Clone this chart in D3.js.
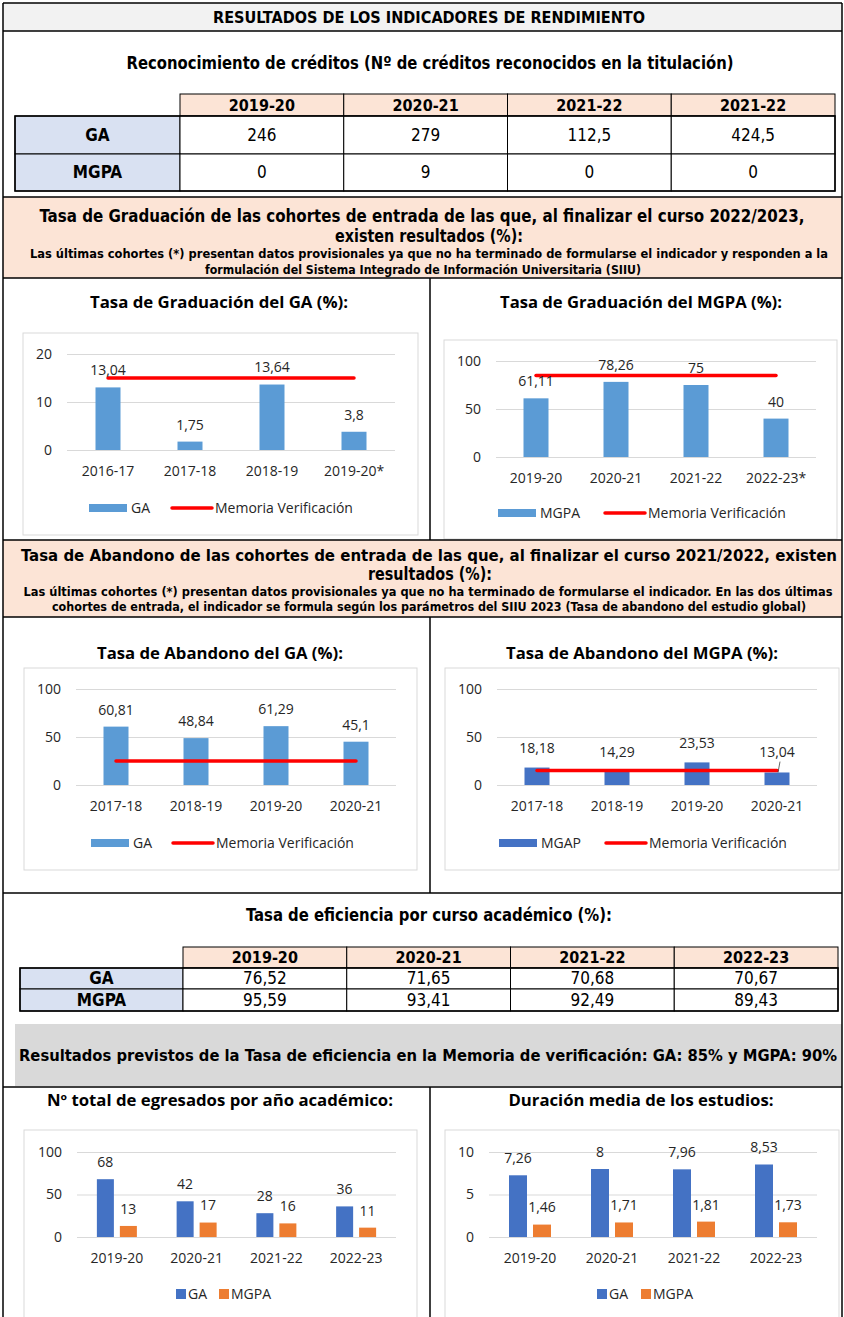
<!DOCTYPE html>
<html>
<head>
<meta charset="utf-8">
<script src="https://cdn.jsdelivr.net/npm/d3@7"></script>
<style>
  body { margin: 0; background: #fff; }
  svg { display: block; }
</style>
</head>
<body>
<div id="wrapper"></div>
<script>
/* DATA */
const creditYears = ['2019-20', '2020-21', '2021-22', '2021-22'];
const creditGA = [246, 279, 112.5, 424.5];
const creditMGPA = [0, 9, 0, 0];

const gradGAYears = ['2016-17', '2017-18', '2018-19', '2019-20*'];
const gradGA = [13.04, 1.75, 13.64, 3.8];
const gradGATarget = 15;

const gradMGPAYears = ['2019-20', '2020-21', '2021-22', '2022-23*'];
const gradMGPA = [61.11, 78.26, 75, 40];
const gradMGPATarget = 85;

const abanYears = ['2017-18', '2018-19', '2019-20', '2020-21'];
const abanGA = [60.81, 48.84, 61.29, 45.1];
const abanGATarget = 25;
const abanMGPA = [18.18, 14.29, 23.53, 13.04];
const abanMGPATarget = 15;

const eficYears = ['2019-20', '2020-21', '2021-22', '2022-23'];
const eficGA = [76.52, 71.65, 70.68, 70.67];
const eficMGPA = [95.59, 93.41, 92.49, 89.43];

const egreYears = ['2019-20', '2020-21', '2021-22', '2022-23'];
const egreGA = [68, 42, 28, 36];
const egreMGPA = [13, 17, 16, 11];

const durYears = ['2019-20', '2020-21', '2021-22', '2022-23'];
const durGA = [7.26, 8, 7.96, 8.53];
const durMGPA = [1.46, 1.71, 1.81, 1.73];

const ticksSmall = [0, 10, 20];
const ticksPct = [0, 50, 100];
const ticksDur = [0, 5, 10];

/* SETUP */
const width = 844;
const height = 1317;
const narrow = "'DejaVu Sans Condensed', 'DejaVu Sans', sans-serif";
const chartFont = "'Open Sans', sans-serif";
const lightBlue = '#5b9bd5';
const darkBlue = '#4472c4';
const orange = '#ed7d31';
const peach = '#fce4d6';
const lavender = '#d9e1f2';

const comma = v => String(v).replace('.', ',');

const svg = d3.select('#wrapper')
  .append('svg')
  .attr('width', width)
  .attr('height', height);

function addText(parent, str, x, y, o = {}) {
  const t = parent.append('text')
    .attr('x', x)
    .attr('y', y)
    .attr('dy', '0.35em')
    .attr('text-anchor', o.anchor || 'middle')
    .attr('font-family', o.font || narrow)
    .attr('font-size', o.size || 16)
    .attr('font-weight', o.bold ? 'bold' : 'normal')
    .attr('fill', o.color || '#000')
    .text(str);
  if (o.fit) t.attr('textLength', o.fit).attr('lengthAdjust', 'spacingAndGlyphs');
  return t;
}

/* BACKGROUNDS */
svg.append('rect').attr('x', 3).attr('y', 3).attr('width', 839).attr('height', 28).attr('fill', '#f2f2f2');
svg.append('rect').attr('x', 3).attr('y', 197).attr('width', 839).attr('height', 81).attr('fill', peach);
svg.append('rect').attr('x', 3).attr('y', 540).attr('width', 839).attr('height', 77).attr('fill', peach);
svg.append('rect').attr('x', 15).attr('y', 1024).attr('width', 827).attr('height', 62).attr('fill', '#d9d9d9');

/* SECTION TEXTS */
addText(svg, 'RESULTADOS DE LOS INDICADORES DE RENDIMIENTO', 429, 18, { bold: true, size: 15, fit: 432 });
addText(svg, 'Reconocimiento de créditos (Nº de créditos reconocidos en la titulación)', 430, 63, { bold: true, size: 17, fit: 607 });

addText(svg, 'Tasa de Graduación de las cohortes de entrada de las que, al finalizar el curso 2022/2023,', 422, 216, { bold: true, size: 17, fit: 765 });
addText(svg, 'existen resultados (%):', 429, 236, { bold: true, size: 17, fit: 188 });
addText(svg, 'Las últimas cohortes (*) presentan datos provisionales ya que no ha terminado de formularse el indicador y responden a la', 429, 254, { bold: true, size: 12.5, fit: 798 });
addText(svg, 'formulación del Sistema Integrado de Información Universitaria (SIIU)', 423, 270, { bold: true, size: 12.5, fit: 436 });

addText(svg, 'Tasa de Abandono de las cohortes de entrada de las que, al finalizar el curso 2021/2022, existen', 429, 555, { bold: true, size: 16, fit: 816 });
addText(svg, 'resultados (%):', 430, 574, { bold: true, size: 17, fit: 124 });
addText(svg, 'Las últimas cohortes (*) presentan datos provisionales ya que no ha terminado de formularse el indicador. En las dos últimas', 428, 592, { bold: true, size: 12.5, fit: 809 });
addText(svg, 'cohortes de entrada, el indicador se formula según los parámetros del SIIU 2023 (Tasa de abandono del estudio global)', 429, 607, { bold: true, size: 12.5, fit: 754 });

addText(svg, 'Tasa de eficiencia por curso académico (%):', 429, 915, { bold: true, size: 17, fit: 366 });
addText(svg, 'Resultados previstos de la Tasa de eficiencia en la Memoria de verificación: GA: 85% y MGPA: 90%', 428, 1055, { bold: true, size: 16, fit: 818 });

/* TABLES */
function drawTable(t) {
  const g = svg.append('g');
  const cols = d3.scaleBand().domain(d3.range(t.years.length)).range([t.xLabel, t.x1]);
  const [y0, y1] = t.rowY;
  const headH = y1 - y0;

  t.years.forEach((yr, i) => {
    g.append('rect')
      .attr('x', cols(i)).attr('y', y0)
      .attr('width', cols.bandwidth()).attr('height', headH)
      .attr('fill', peach).attr('stroke', '#000');
    addText(g, yr, cols(i) + cols.bandwidth() / 2, y0 + headH / 2, { bold: true, size: t.headSize });
  });

  let top = y1;
  t.rows.forEach((row, r) => {
    const h = t.rowH[r];
    g.append('rect')
      .attr('x', t.x0).attr('y', top)
      .attr('width', t.xLabel - t.x0).attr('height', h)
      .attr('fill', lavender).attr('stroke', '#000');
    addText(g, row.name, (t.x0 + t.xLabel) / 2, top + h / 2, { bold: true, size: t.valueSize });
    row.values.forEach((v, i) => {
      g.append('rect')
        .attr('x', cols(i)).attr('y', top)
        .attr('width', cols.bandwidth()).attr('height', h)
        .attr('fill', '#fff').attr('stroke', '#000');
      addText(g, comma(v), cols(i) + cols.bandwidth() / 2, top + h / 2, { size: t.valueSize });
    });
    top += h;
  });
  g.append('rect')
    .attr('x', t.x0).attr('y', y1)
    .attr('width', t.x1 - t.x0).attr('height', top - y1)
    .attr('fill', 'none').attr('stroke', '#000').attr('stroke-width', 1.5);
}

drawTable({
  x0: 15, xLabel: 180, x1: 835, rowY: [94, 116], rowH: [38, 37],
  years: creditYears, headSize: 16, valueSize: 17,
  rows: [{ name: 'GA', values: creditGA }, { name: 'MGPA', values: creditMGPA }],
});

drawTable({
  x0: 20, xLabel: 183, x1: 838, rowY: [947, 968], rowH: [21, 22],
  years: eficYears, headSize: 16, valueSize: 17,
  rows: [{ name: 'GA', values: eficGA }, { name: 'MGPA', values: eficMGPA }],
});

/* CHARTS */
function drawChart(c) {
  const g = svg.append('g');
  g.append('rect')
    .attr('x', c.box[0]).attr('y', c.box[1])
    .attr('width', c.box[2]).attr('height', c.box[3])
    .attr('fill', '#fff').attr('stroke', '#d9d9d9');
  addText(g, c.title, c.titleX, c.titleY, { font: chartFont, size: 16, bold: true, fit: c.titleW });

  const [px0, px1, py0, py1] = c.plot;
  const x = d3.scaleBand().domain(c.cats).range([px0, px1]);
  const y = d3.scaleLinear().domain([0, d3.max(c.ticks)]).range([py0, py1]);
  const inner = d3.scaleBand()
    .domain(c.series.map(s => s.name))
    .range(c.inner)
    .paddingInner(c.innerPad);

  const yAxis = g.append('g')
    .attr('transform', `translate(${px0},0)`)
    .call(d3.axisLeft(y).tickValues(c.ticks).tickSize(-(px1 - px0)).tickPadding(15));
  yAxis.select('.domain').remove();
  yAxis.selectAll('line').attr('stroke', '#d9d9d9');
  yAxis.selectAll('text')
    .attr('font-family', chartFont).attr('font-size', 14).attr('fill', '#262626');

  const xAxis = g.append('g')
    .attr('transform', `translate(0,${py0})`)
    .call(d3.axisBottom(x).tickSize(0).tickPadding(16));
  xAxis.select('.domain').remove();
  xAxis.selectAll('text')
    .attr('font-family', chartFont).attr('font-size', 14).attr('fill', '#262626');

  const cx = i => x(c.cats[i]) + x.bandwidth() / 2;

  c.series.forEach(s => {
    g.append('g')
      .selectAll('rect')
      .data(s.values)
      .join('rect')
      .attr('x', (d, i) => cx(i) + inner(s.name))
      .attr('y', d => y(d))
      .attr('width', inner.bandwidth())
      .attr('height', d => py0 - y(d))
      .attr('fill', s.color);
  });

  if (c.target != null) {
    g.append('path')
      .datum(c.cats)
      .attr('d', d3.line().x((d, i) => cx(i)).y(() => y(c.target)))
      .attr('fill', 'none')
      .attr('stroke', '#ff0000')
      .attr('stroke-width', 3.5)
      .attr('stroke-linecap', 'round');
  }

  c.series.forEach(s => {
    s.values.forEach((d, i) => {
      const bx = cx(i) + inner(s.name) + inner.bandwidth() / 2;
      const ly = c.clearLine ? Math.min(y(d), y(c.target)) - 19 : y(d) - 17;
      // leader line when a label was pushed well away from its bar
      if (y(d) - ly > 20.5) {
        g.append('line')
          .attr('x1', bx + 3).attr('x2', bx + 1)
          .attr('y1', ly + 10).attr('y2', y(d))
          .attr('stroke', '#404040').attr('stroke-width', 0.8);
      }
      addText(g, comma(d), bx, ly, { font: chartFont, size: 14, color: '#262626' });
    });
  });

  // legend
  const lg = g.append('g');
  c.series.forEach((s, i) => {
    const lx = c.legendX[i];
    if (c.square) {
      lg.append('rect').attr('x', lx).attr('y', c.legendY - 5).attr('width', 10).attr('height', 10).attr('fill', s.color);
      addText(lg, s.name, lx + 12, c.legendY, { font: chartFont, size: 14, anchor: 'start', color: '#262626' });
    } else {
      lg.append('rect').attr('x', lx).attr('y', c.legendY - 4).attr('width', 38).attr('height', 8).attr('fill', s.color);
      addText(lg, s.name, lx + 42, c.legendY, { font: chartFont, size: 14, anchor: 'start', color: '#262626' });
    }
  });
  if (c.target != null) {
    const lx = c.legendX[c.series.length];
    lg.append('line')
      .attr('x1', lx).attr('x2', lx + 40)
      .attr('y1', c.legendY).attr('y2', c.legendY)
      .attr('stroke', '#ff0000').attr('stroke-width', 3.5).attr('stroke-linecap', 'round');
    addText(lg, 'Memoria Verificación', lx + 43, c.legendY, { font: chartFont, size: 14, anchor: 'start', color: '#262626' });
  }
}

drawChart({
  title: 'Tasa de Graduación del GA (%):', titleX: 219, titleY: 302, titleW: 258,
  box: [23, 333, 395, 202], plot: [67, 395, 450, 354], ticks: ticksSmall,
  cats: gradGAYears, inner: [-12.5, 12.5], innerPad: 0,
  series: [{ name: 'GA', values: gradGA, color: lightBlue }],
  target: gradGATarget, legendX: [89, 172], legendY: 508,
});

drawChart({
  title: 'Tasa de Graduación del MGPA (%):', titleX: 641, titleY: 302, titleW: 282,
  box: [444, 340, 393, 199], plot: [496, 816, 457, 361], ticks: ticksPct,
  cats: gradMGPAYears, inner: [-12.5, 12.5], innerPad: 0,
  series: [{ name: 'MGPA', values: gradMGPA, color: lightBlue }],
  target: gradMGPATarget, legendX: [498, 605], legendY: 513,
});

drawChart({
  title: 'Tasa de Abandono del GA (%):', titleX: 220, titleY: 653, titleW: 246,
  box: [24, 668, 393, 202], plot: [76, 396, 785, 689], ticks: ticksPct,
  cats: abanYears, inner: [-12.5, 12.5], innerPad: 0,
  series: [{ name: 'GA', values: abanGA, color: lightBlue }],
  target: abanGATarget, legendX: [91, 173], legendY: 843,
});

drawChart({
  title: 'Tasa de Abandono del MGPA (%):', titleX: 642, titleY: 653, titleW: 272,
  box: [445, 668, 394, 202], plot: [497, 817, 785, 689], ticks: ticksPct,
  cats: abanYears, inner: [-12.5, 12.5], innerPad: 0,
  series: [{ name: 'MGAP', values: abanMGPA, color: darkBlue }],
  target: abanMGPATarget, clearLine: true, legendX: [499, 606], legendY: 843,
});

drawChart({
  title: 'Nº total de egresados por año académico:', titleX: 220, titleY: 1100, titleW: 346,
  box: [24, 1130, 393, 220], plot: [77, 396, 1237, 1152], ticks: ticksPct,
  cats: egreYears, inner: [-20, 20], innerPad: 0.26,
  series: [
    { name: 'GA', values: egreGA, color: darkBlue },
    { name: 'MGPA', values: egreMGPA, color: orange },
  ],
  square: true, legendX: [176, 219], legendY: 1294,
});

drawChart({
  title: 'Duración media de los estudios:', titleX: 641, titleY: 1100, titleW: 265,
  box: [445, 1130, 394, 220], plot: [489, 817, 1237, 1152], ticks: ticksDur,
  cats: durYears, inner: [-21, 21], innerPad: 0.25,
  series: [
    { name: 'GA', values: durGA, color: darkBlue },
    { name: 'MGPA', values: durMGPA, color: orange },
  ],
  square: true, legendX: [597, 641], legendY: 1294,
});

/* FRAME (on top) */
const frame = svg.append('g').attr('stroke', '#000').attr('stroke-width', 1.5);
[3, 31, 197, 278, 540, 617, 893, 1087].forEach(yy => {
  frame.append('line').attr('x1', 3).attr('x2', 842).attr('y1', yy).attr('y2', yy);
});
[3, 842].forEach(xx => {
  frame.append('line').attr('x1', xx).attr('x2', xx).attr('y1', 3).attr('y2', height);
});
[[278, 540], [617, 893], [1087, height]].forEach(([a, b]) => {
  frame.append('line').attr('x1', 430).attr('x2', 430).attr('y1', a).attr('y2', b);
});
</script>
</body>
</html>
